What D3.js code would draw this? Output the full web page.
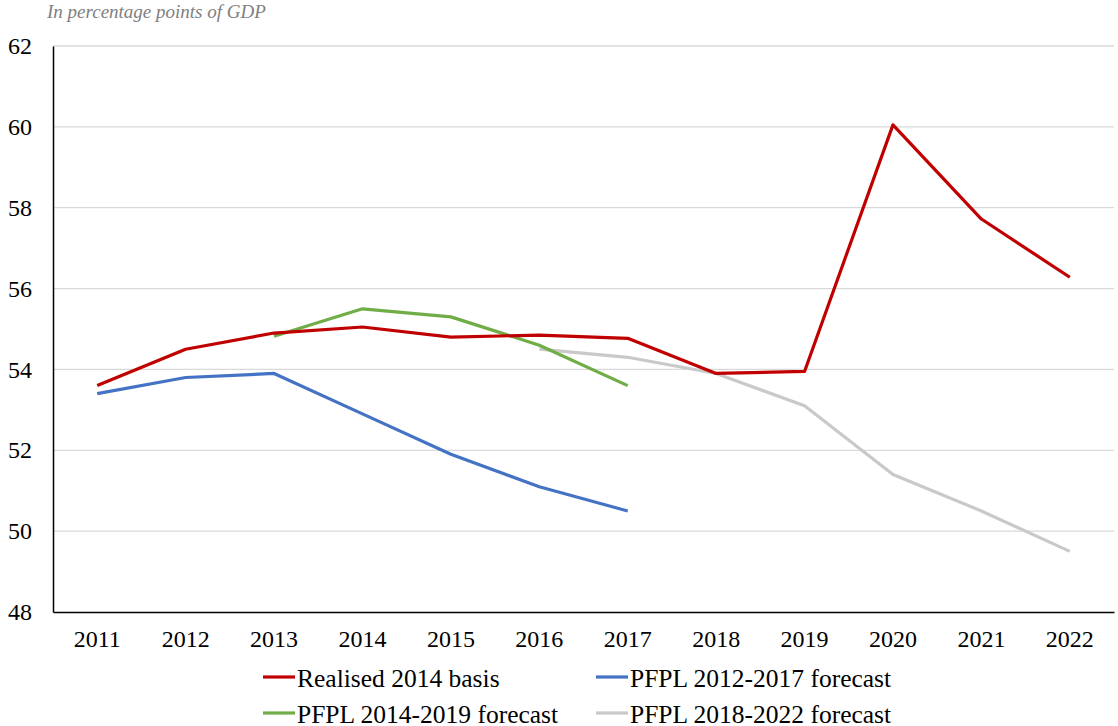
<!DOCTYPE html>
<html>
<head>
<meta charset="utf-8">
<script src="https://cdn.jsdelivr.net/npm/d3@7"></script>
<style>
  html, body { margin: 0; padding: 0; background: #fff; }
  svg { display: block; }
</style>
</head>
<body>
<svg id="chart" width="1118" height="726"></svg>
<script>
// Public finance: realised ratio vs successive multi-year forecasts (% of GDP)
const years = ["2011","2012","2013","2014","2015","2016","2017","2018","2019","2020","2021","2022"];
const yTicks = [48, 50, 52, 54, 56, 58, 60, 62];

const realisedYears = years;
const realised = [53.6, 54.5, 54.9, 55.05, 54.8, 54.85, 54.77, 53.9, 53.95, 60.05, 57.72, 56.28];

const pfpl1217Years = ["2011","2012","2013","2014","2015","2016","2017"];
const pfpl1217 = [53.4, 53.8, 53.9, 52.9, 51.9, 51.1, 50.5];

const pfpl1419Years = ["2013","2014","2015","2016","2017"];
const pfpl1419 = [54.82, 55.5, 55.3, 54.6, 53.6];

const pfpl1822Years = ["2016","2017","2018","2019","2020","2021","2022"];
const pfpl1822 = [54.5, 54.3, 53.9, 53.1, 51.4, 50.5, 49.5];

const seriesNames = ["Realised 2014 basis", "PFPL 2012-2017 forecast", "PFPL 2014-2019 forecast", "PFPL 2018-2022 forecast"];
const seriesColors = ["#C00000", "#4472C4", "#70AD47", "#C9C9C9"];

const series = [
  { name: seriesNames[0], color: seriesColors[0], xs: realisedYears, ys: realised },
  { name: seriesNames[1], color: seriesColors[1], xs: pfpl1217Years, ys: pfpl1217 },
  { name: seriesNames[2], color: seriesColors[2], xs: pfpl1419Years, ys: pfpl1419 },
  { name: seriesNames[3], color: seriesColors[3], xs: pfpl1822Years, ys: pfpl1822 }
];

const FONT = "Liberation Serif";
const svg = d3.select("#chart");
const plot = { left: 53, right: 1114, top: 46, bottom: 612 };

const x = d3.scaleBand().domain(years).range([plot.left, plot.right]);
const y = d3.scaleLinear().domain([48, 62]).range([plot.bottom, plot.top]);

// Unit caption
svg.append("text")
  .attr("x", 47).attr("y", 18)
  .attr("font-family", FONT)
  .attr("font-size", 19).attr("font-style", "italic")
  .attr("fill", "#808080")
  .text("In percentage points of GDP");

// Horizontal gridlines
svg.append("g")
  .selectAll("line")
  .data(yTicks.filter(d => d > 48))
  .join("line")
  .attr("x1", plot.left).attr("x2", plot.right)
  .attr("y1", d => y(d)).attr("y2", d => y(d))
  .attr("stroke", "#D9D9D9").attr("stroke-width", 1.3);

// Y axis
const yAxis = svg.append("g")
  .attr("transform", `translate(${plot.left},0)`)
  .call(d3.axisLeft(y).tickValues(yTicks).tickSize(0).tickPadding(21).tickFormat(d3.format("d")))
  .attr("font-family", FONT).attr("font-size", 24);
yAxis.select(".domain").attr("stroke", "#000").attr("stroke-width", 1.5);
yAxis.selectAll("text").attr("fill", "#000");

// X axis
const xAxis = svg.append("g")
  .attr("transform", `translate(0,${plot.bottom})`)
  .call(d3.axisBottom(x).tickSize(0).tickPadding(18))
  .attr("font-family", FONT).attr("font-size", 24);
xAxis.select(".domain").attr("stroke", "#000").attr("stroke-width", 1.5);
xAxis.selectAll("text").attr("fill", "#000");

// Lines
const line = d3.line()
  .x(d => x(d[0]) + x.bandwidth() / 2)
  .y(d => y(d[1]));

// Draw order: forecasts underneath, realised on top
const drawOrder = [3, 2, 1, 0];
svg.append("g")
  .selectAll("path")
  .data(drawOrder.map(i => series[i]))
  .join("path")
  .attr("d", s => line(s.xs.map((yr, i) => [yr, s.ys[i]])))
  .attr("fill", "none")
  .attr("stroke", s => s.color)
  .attr("stroke-width", 3.2)
  .attr("stroke-linejoin", "round");

// Legend (two columns, two rows)
const legendPos = [
  { x: 263, y: 677 }, { x: 596, y: 677 },
  { x: 263, y: 713 }, { x: 596, y: 713 }
];
const legend = svg.append("g")
  .attr("font-family", FONT)
  .selectAll("g")
  .data(series)
  .join("g")
  .attr("transform", (d, i) => `translate(${legendPos[i].x},${legendPos[i].y})`);
legend.append("line")
  .attr("x1", 0).attr("x2", 32).attr("y1", 0).attr("y2", 0)
  .attr("stroke", d => d.color).attr("stroke-width", 3.2);
legend.append("text")
  .attr("x", 34).attr("y", 10)
  .attr("font-size", 25.5).attr("fill", "#000")
  .text(d => d.name);
</script>
</body>
</html>
